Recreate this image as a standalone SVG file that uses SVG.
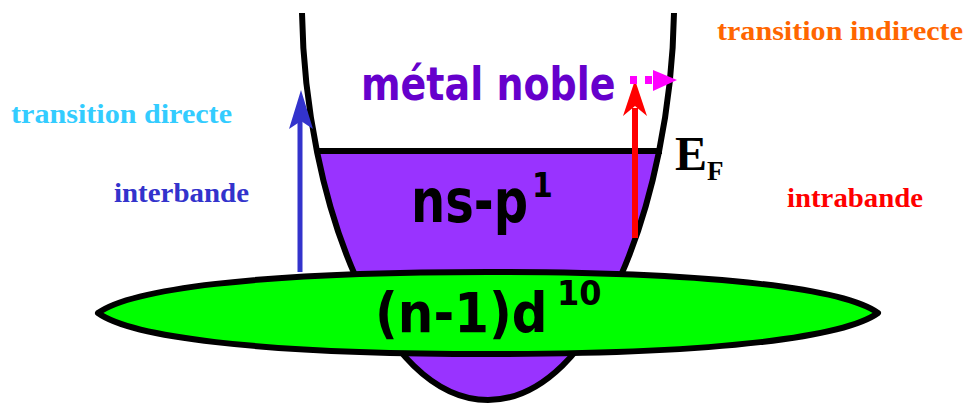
<svg xmlns="http://www.w3.org/2000/svg" width="967" height="404" viewBox="0 0 967 404">
<style>
.sans{font-family:"DejaVu Sans","Verdana",sans-serif;font-weight:bold}
.serif{font-family:"Liberation Serif","Times New Roman",serif;font-weight:bold}
.outline{fill:none;stroke:#000;stroke-width:6;stroke-linejoin:round}
</style>
<defs>
<clipPath id="below-ef"><rect x="0" y="151" width="967" height="260"/></clipPath>
</defs>
<rect width="967" height="404" fill="#fff"/>
<g id="band-sp">
<path d="M302 13 C305 200 380 400 488 400 C596 400 671 200 674 13 Z" fill="#9933FF" clip-path="url(#below-ef)"/>
<path class="outline" d="M302 13 C305 200 380 400 488 400 C596 400 671 200 674 13"/>
<line x1="315" y1="151" x2="662" y2="151" stroke="#000" stroke-width="6"/>
<text class="sans" font-size="48" fill="#000" transform="translate(411,222) scale(1,1.25)">ns-p</text>
<text class="sans" font-size="30" fill="#000" transform="translate(532,197) scale(1,1.15)">1</text>
</g>
<g id="connectors">
<line x1="300" y1="272" x2="300" y2="120" stroke="#3333CC" stroke-width="5"/>
<polygon points="301,90 313,129 301,121 289,129" fill="#3333CC"/>
<line x1="635" y1="238" x2="635" y2="108" stroke="#FF0000" stroke-width="6"/>
<polygon points="635,80 647,116 635,106 623,116" fill="#FF0000"/>
<rect x="630" y="76" width="7" height="8" fill="#FF00FF"/>
<rect x="645" y="76" width="7" height="8" fill="#FF00FF"/>
<polygon points="653,70 677,80 653,91" fill="#FF00FF"/>
</g>
<g id="band-d">
<path d="M98 313 C130 290 250 272 488 272 C726 272 846 290 878 313 C846 336 726 354 488 354 C250 354 130 336 98 313 Z" fill="#00FF00" stroke="#000" stroke-width="6" stroke-linejoin="round"/>
<text class="sans" font-size="50" fill="#000" transform="translate(375,332) scale(1,1.12)">(n-1)d</text>
<text class="sans" font-size="32" fill="#000" transform="translate(557,305) scale(1,1.05)">10</text>
</g>
<g id="label-metal">
<text class="sans" font-size="38" fill="#6600CC" transform="translate(361,100) scale(1,1.2)">métal noble</text>
</g>
<g id="label-ef">
<text class="serif" font-size="48" fill="#000" x="675" y="170">E</text>
<text class="serif" font-size="27" fill="#000" x="707" y="180">F</text>
</g>
<g id="label-direct">
<text class="serif" font-size="28" fill="#33CCFF" x="11" y="123" textLength="221" lengthAdjust="spacingAndGlyphs">transition directe</text>
<text class="serif" font-size="28" fill="#3333CC" x="114" y="202" textLength="135" lengthAdjust="spacingAndGlyphs">interbande</text>
</g>
<g id="label-indirect">
<text class="serif" font-size="28" fill="#FF6600" x="717" y="40" textLength="246" lengthAdjust="spacingAndGlyphs">transition indirecte</text>
<text class="serif" font-size="28" fill="#FF0000" x="787" y="207" textLength="136" lengthAdjust="spacingAndGlyphs">intrabande</text>
</g>
</svg>
